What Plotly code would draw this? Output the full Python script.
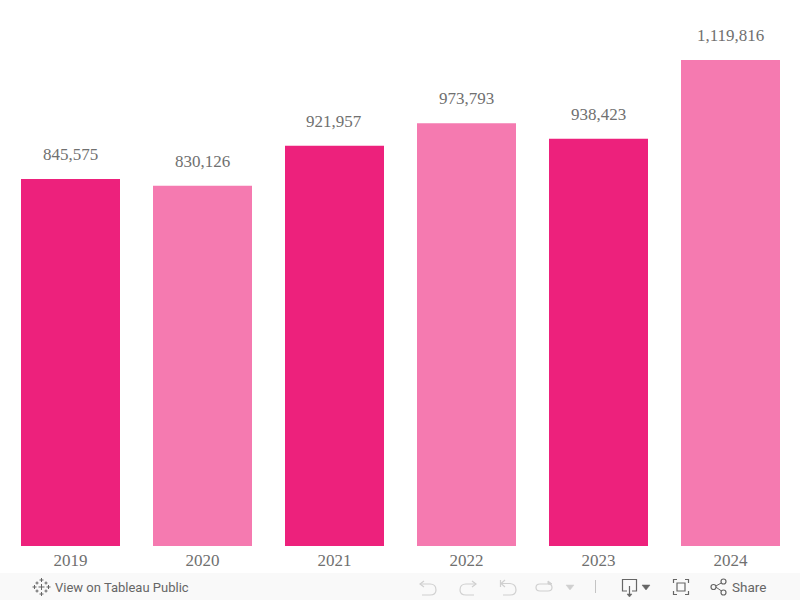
import plotly.graph_objects as go

years = ["2019", "2020", "2021", "2022", "2023", "2024"]
values = [845575, 830126, 921957, 973793, 938423, 1119816]
value_labels = ["845,575", "830,126", "921,957", "973,793", "938,423", "1,119,816"]
colors = ["#ed217c", "#f57ab0", "#ed217c", "#f57ab0", "#ed217c", "#f57ab0"]

W, H = 800, 600
TEXT = "#707070"
SERIF = "Liberation Serif, serif"
SANS = "Roboto, sans-serif"

fig = go.Figure(go.Bar(x=years, y=values, width=0.75, marker=dict(color=colors, line_width=0), hoverinfo="skip"))

for i, (v, t) in enumerate(zip(values, value_labels)):
    fig.add_annotation(x=i, y=v, text=t, showarrow=False, yanchor="bottom", yshift=13, xshift=-0.5,
                       font=dict(family=SERIF, size=17, color=TEXT))

def px(x, y):
    return x / W, 1 - y / H

def path(d, color, width=1.2, fill=None):
    fig.add_shape(type="path", xref="paper", yref="paper", path=d,
                  line=dict(color=color, width=width), fillcolor=fill, layer="above")

def P(*cmds):
    out = []
    for c in cmds:
        if isinstance(c, str):
            out.append(c)
        else:
            a, b = px(*c)
            out.append(f"{a:.5f},{b:.5f}")
    return " ".join(out)

# toolbar band
fig.add_shape(type="rect", xref="paper", yref="paper", x0=0, x1=1, y0=0, y1=1 - 573 / H,
              fillcolor="#f9f9f9", line_width=0, layer="above")

GREY = "#d0d0d0"
DARK = "#666666"

# logo
for cx, cy, r in [(41.5, 587, 3), (41.5, 580, 2), (41.5, 594, 2), (34.5, 587, 2), (48.5, 587, 2),
                  (37, 583, 1.5), (46, 583, 1.5), (37, 591, 1.5), (46, 591, 1.5)]:
    path(P("M", (cx - r, cy), "L", (cx + r, cy), "M", (cx, cy - r), "L", (cx, cy + r)), DARK, 1)

# undo
path(P("M", (424, 581), "L", (420, 584), "L", (424, 587)), GREY)
path(P("M", (420, 584), "L", (430, 584), "Q", (436, 584), (436, 590), "Q", (436, 595), (430, 595), "L", (422, 595)), GREY)
# redo
path(P("M", (472, 581), "L", (476, 584), "L", (472, 587)), GREY)
path(P("M", (476, 584), "L", (466, 584), "Q", (460, 584), (460, 590), "Q", (460, 595), (466, 595), "L", (474, 595)), GREY)
# revert
path(P("M", (500.5, 580), "L", (500.5, 587)), GREY)
path(P("M", (505, 580), "L", (501, 583.5), "L", (505, 587)), GREY)
path(P("M", (501, 583.5), "L", (510, 583.5), "Q", (516, 584), (516, 590), "Q", (516, 595), (510, 595), "L", (503, 595)), GREY)
# refresh
path(P("M", (540, 584), "L", (548, 584), "Q", (552, 584), (552, 587.5), "Q", (552, 591), (548, 591), "L", (540, 591),
       "Q", (536, 591), (536, 587.5), "Q", (536, 584), (540, 584)), GREY)
path(P("M", (548, 581), "L", (552, 584), "L", (548, 584), "Z"), GREY, 1, GREY)
# small arrow
path(P("M", (566, 585), "L", (574, 585), "L", (570, 590), "Z"), GREY, 0.5, GREY)
# separator
path(P("M", (595.5, 580), "L", (595.5, 593)), "#c4c4c4", 1)
# download
path(P("M", (627, 591), "L", (622.5, 591), "L", (622.5, 579.5), "L", (636.5, 579.5), "L", (636.5, 591), "L", (632, 591)), DARK)
path(P("M", (629.5, 586), "L", (629.5, 596)), DARK)
path(P("M", (627, 594), "L", (632, 594), "L", (629.5, 597), "Z"), DARK, 0.5, DARK)
path(P("M", (642, 585), "L", (650, 585), "L", (646, 590), "Z"), DARK, 0.5, DARK)
# fullscreen
path(P("M", (673.5, 583), "L", (673.5, 579.5), "L", (677, 579.5), "M", (685, 579.5), "L", (688.5, 579.5), "L", (688.5, 583),
       "M", (688.5, 591), "L", (688.5, 594.5), "L", (685, 594.5), "M", (677, 594.5), "L", (673.5, 594.5), "L", (673.5, 591)), DARK)
path(P("M", (677, 583), "L", (685, 583), "L", (685, 591), "L", (677, 591), "Z"), DARK)
# share
path(P("M", (723, 582), "L", (715, 586.5), "L", (723, 592)), DARK, 1)
for cx, cy, r in [(723.5, 581.5, 2.5), (713.5, 587, 2.5), (723.5, 592.5, 2.5)]:
    x0, y0 = px(cx - r, cy - r)
    x1, y1 = px(cx + r, cy + r)
    fig.add_shape(type="circle", xref="paper", yref="paper", x0=x0, x1=x1, y0=y0, y1=y1,
                  line=dict(color=DARK, width=1.2), fillcolor="#f9f9f9", layer="above")

fig.add_annotation(xref="paper", yref="paper", x=53 / W, y=1 - 587 / H, text="View on Tableau Public", showarrow=False,
                   xanchor="left", yanchor="middle", font=dict(family=SANS, size=13, color=DARK))
fig.add_annotation(xref="paper", yref="paper", x=730 / W, y=1 - 587 / H, text="Share", showarrow=False,
                   xanchor="left", yanchor="middle", font=dict(family=SANS, size=13.5, color=DARK))

fig.update_layout(
    width=W, height=H, margin=dict(l=0, r=0, t=0, b=0), autosize=False,
    paper_bgcolor="white", plot_bgcolor="white", showlegend=False,
    xaxis=dict(domain=[4.5 / W, 796.5 / W], type="category", range=[-0.5, 5.5], showgrid=False, zeroline=False,
               showline=False, ticks="", ticklabelstandoff=2,
               tickfont=dict(family=SERIF, size=17, color=TEXT), automargin=False),
    yaxis=dict(domain=[54 / H, 1], range=[0, max(values) * 546 / 486], visible=False, fixedrange=True),
)
fig.write_html("out.html", config={"displayModeBar": False},
               post_script="document.body.style.margin='0';document.body.style.overflow='hidden';")
